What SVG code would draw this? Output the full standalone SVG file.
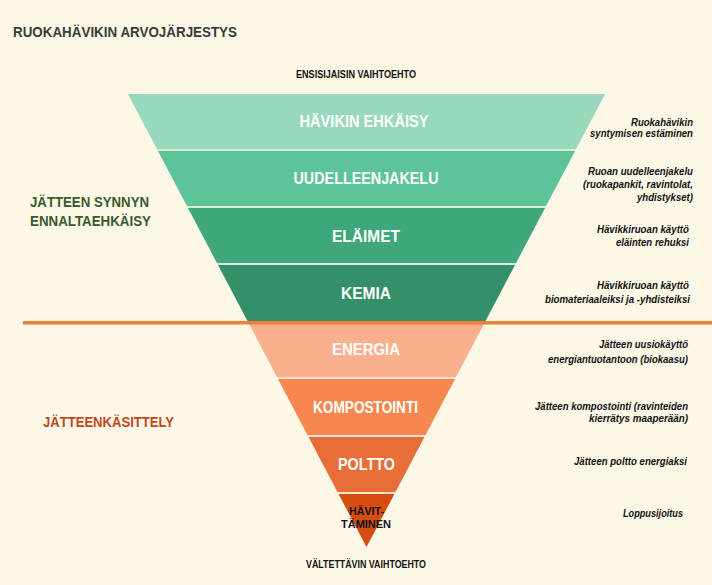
<svg xmlns="http://www.w3.org/2000/svg" width="712" height="585" viewBox="0 0 712 585">
<style>
  .band-label { font-family: "Liberation Sans", Arial, sans-serif; font-weight: bold; fill: #ffffff; text-anchor: middle; font-size: 16.5px; }
  .small-cap { font-family: "Liberation Sans", Arial, sans-serif; font-weight: bold; fill: #111111; text-anchor: middle; font-size: 10px; }
  .desc { font-family: "Liberation Sans", Arial, sans-serif; font-weight: bold; font-style: italic; fill: #111111; text-anchor: end; font-size: 10.5px; }
  .side { font-family: "Liberation Sans", Arial, sans-serif; font-weight: bold; font-size: 14px; }
  .tip { font-family: "Liberation Sans", Arial, sans-serif; font-weight: bold; font-size: 11.5px; fill: #111111; text-anchor: middle; }
</style>
<rect x="0" y="0" width="712" height="585" fill="#fdf7e8"/>
<g id="title">
  <text x="13" y="36.5" font-family="Liberation Sans, Arial, sans-serif" font-weight="bold" font-size="15" fill="#3b3b3b" textLength="224" lengthAdjust="spacingAndGlyphs">RUOKAHÄVIKIN ARVOJÄRJESTYS</text>
</g>
<g id="top-label">
  <text class="small-cap" x="356" y="78" textLength="120" lengthAdjust="spacingAndGlyphs">ENSISIJAISIN VAIHTOEHTO</text>
</g>
<g id="bottom-label">
  <text class="small-cap" x="366" y="568" textLength="120" lengthAdjust="spacingAndGlyphs">VÄLTETTÄVIN VAIHTOEHTO</text>
</g>
<g id="pyramid-gaps">
  <polygon points="128,94 605,94 485.5,321 247.5,321" fill="#d6eed9"/>
  <polygon points="248.6,323 484.4,323 366.5,547" fill="#fde3d2"/>
</g>
<g id="node-havikin-ehkaisy">
  <polygon points="128,94 605,94 576,149 157,149" fill="#98d8bd"/>
  <text class="band-label" x="364" y="126.5" textLength="129" lengthAdjust="spacingAndGlyphs">HÄVIKIN EHKÄISY</text>
</g>
<g id="node-uudelleenjakelu">
  <polygon points="158,151 575,151 546,206 187,206" fill="#5cc39a"/>
  <text class="band-label" x="366" y="183.5" textLength="145" lengthAdjust="spacingAndGlyphs">UUDELLEENJAKELU</text>
</g>
<g id="node-elaimet">
  <polygon points="188,208 545,208 516,263 217,263" fill="#3ea77b"/>
  <text class="band-label" x="366" y="241.5" textLength="68" lengthAdjust="spacingAndGlyphs">ELÄIMET</text>
</g>
<g id="node-kemia">
  <polygon points="218,265 515,265 485.5,321 247.5,321" fill="#368f6b"/>
  <text class="band-label" x="366" y="298.5" textLength="50" lengthAdjust="spacingAndGlyphs">KEMIA</text>
</g>
<g id="node-energia">
  <polygon points="248.6,323 484.4,323 456,377 277,377" fill="#fab08c"/>
  <text class="band-label" x="366" y="355" textLength="68" lengthAdjust="spacingAndGlyphs">ENERGIA</text>
</g>
<g id="node-kompostointi">
  <polygon points="278,379 455,379 425.5,435 307.5,435" fill="#f7874e"/>
  <text class="band-label" x="365.5" y="412.8" font-size="15" textLength="105" lengthAdjust="spacingAndGlyphs">KOMPOSTOINTI</text>
</g>
<g id="node-poltto">
  <polygon points="308.6,437 424.4,437 395.5,492 337.5,492" fill="#e86d37"/>
  <text class="band-label" x="366.5" y="470" textLength="57" lengthAdjust="spacingAndGlyphs">POLTTO</text>
</g>
<g id="node-havittaminen">
  <polygon points="338.6,494 394.4,494 366.5,547" fill="#d74c10"/>
  <text class="tip" x="366.5" y="515" textLength="35" lengthAdjust="spacingAndGlyphs">HÄVIT-</text>
  <text class="tip" x="366" y="528" textLength="50" lengthAdjust="spacingAndGlyphs">TÄMINEN</text>
</g>
<g id="connectors">
  <rect x="23" y="321" width="689" height="3.5" fill="#ef7f33"/>
</g>
<g id="group-jatteen-synnyn-ennaltaehkaisy">
  <text class="side" x="30" y="207" fill="#3b5a2a" textLength="119" lengthAdjust="spacingAndGlyphs">JÄTTEEN SYNNYN</text>
  <text class="side" x="30" y="225.5" fill="#3b5a2a" textLength="121" lengthAdjust="spacingAndGlyphs">ENNALTAEHKÄISY</text>
</g>
<g id="group-jatteenkasittely">
  <text class="side" x="43" y="426.5" fill="#c2461a" textLength="131" lengthAdjust="spacingAndGlyphs">JÄTTEENKÄSITTELY</text>
</g>
<g id="descriptions">
  <text class="desc" x="693" y="125.5" textLength="62" lengthAdjust="spacingAndGlyphs">Ruokahävikin</text>
  <text class="desc" x="693" y="137" textLength="103" lengthAdjust="spacingAndGlyphs">syntymisen estäminen</text>
  <text class="desc" x="693" y="175" textLength="105" lengthAdjust="spacingAndGlyphs">Ruoan uudelleenjakelu</text>
  <text class="desc" x="693" y="188" textLength="110" lengthAdjust="spacingAndGlyphs">(ruokapankit, ravintolat,</text>
  <text class="desc" x="693" y="200.5" textLength="56" lengthAdjust="spacingAndGlyphs">yhdistykset)</text>
  <text class="desc" x="689" y="232.5" textLength="92" lengthAdjust="spacingAndGlyphs">Hävikkiruoan käyttö</text>
  <text class="desc" x="689" y="246" textLength="73" lengthAdjust="spacingAndGlyphs">eläinten rehuksi</text>
  <text class="desc" x="689" y="288.5" textLength="92" lengthAdjust="spacingAndGlyphs">Hävikkiruoan käyttö</text>
  <text class="desc" x="690" y="302.5" textLength="145" lengthAdjust="spacingAndGlyphs">biomateriaaleiksi ja -yhdisteiksi</text>
  <text class="desc" x="688" y="348" textLength="89" lengthAdjust="spacingAndGlyphs">Jätteen uusiokäyttö</text>
  <text class="desc" x="688" y="363" textLength="140" lengthAdjust="spacingAndGlyphs">energiantuotantoon (biokaasu)</text>
  <text class="desc" x="688" y="410" textLength="153" lengthAdjust="spacingAndGlyphs">Jätteen kompostointi (ravinteiden</text>
  <text class="desc" x="688" y="421.5" textLength="99" lengthAdjust="spacingAndGlyphs">kierrätys maaperään)</text>
  <text class="desc" x="687" y="465" textLength="113" lengthAdjust="spacingAndGlyphs">Jätteen poltto energiaksi</text>
  <text class="desc" x="683" y="517" textLength="60" lengthAdjust="spacingAndGlyphs">Loppusijoitus</text>
</g>
</svg>
